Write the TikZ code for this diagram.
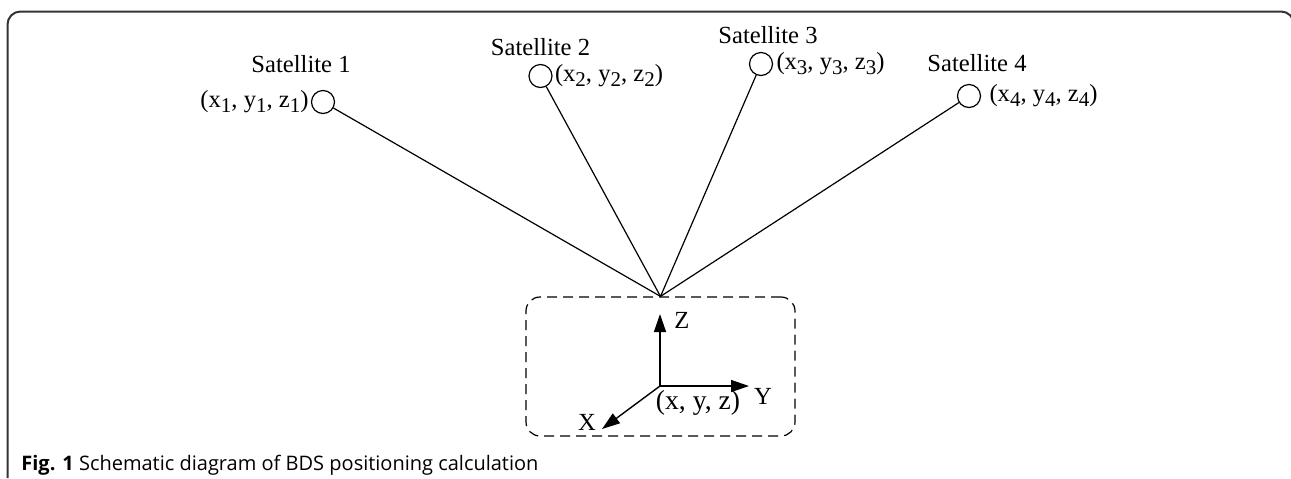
\documentclass[tikz,border=0pt]{standalone}
\usepackage{fontspec}
\setmainfont{Liberation Serif}
\newfontfamily\capfont{Open Sans}
\usetikzlibrary{arrows.meta, positioning}
\newcommand{\lowidx}[1]{\raisebox{-0.4ex}{\fontsize{10.5}{12}\selectfont #1}}

\begin{document}
\begin{tikzpicture}[x=0.5pt, y=-0.5pt,
	sat/.style={draw, circle, minimum size=11.5pt, inner sep=0pt, line width=0.6pt},
	lbl/.style={font=\fontsize{12.3}{14}\selectfont, inner sep=0pt},
	ray/.style={line width=0.6pt},
	axis/.style={line width=0.7pt, -{Triangle[length=9pt,width=6pt]}}]
	\useasboundingbox (0,0) rectangle (1291,478);
	% outer frame
	\draw[line width=1pt, black!80, rounded corners=6.5pt] (7.5,478) -- (7.5,11.5) -- (1294,11.5) -- (1294,40);
	% satellites
	\node[sat] (s1) at (323,102) {};
	\node[sat] (s2) at (540.5,76) {};
	\node[sat] (s3) at (761,64) {};
	\node[sat] (s4) at (969,96) {};
	\node[lbl, left=1pt of s1] (p1) {(x\lowidx{1}, y\lowidx{1}, z\lowidx{1})};
	\node[lbl, right=1pt of s2] (p2) {(x\lowidx{2}, y\lowidx{2}, z\lowidx{2})};
	\node[lbl, right=1.5pt of s3] (p3) {(x\lowidx{3}, y\lowidx{3}, z\lowidx{3})};
	\node[lbl, right=4pt of s4] (p4) {(x\lowidx{4}, y\lowidx{4}, z\lowidx{4})};
	\node[lbl, anchor=base] (n1) at (301,72) {Satellite 1};
	\node[lbl, anchor=base] (n2) at (540.5,55) {Satellite 2};
	\node[lbl, anchor=base] (n3) at (768,43) {Satellite 3};
	\node[lbl, anchor=base] (n4) at (977,71) {Satellite 4};
	% receiver
	\node[draw, line width=0.6pt, dash pattern=on 5pt off 3pt, rounded corners=7pt,
		minimum width=134.5pt, minimum height=69.5pt] (rx) at (660.5,366.5) {};
	\foreach \s in {s1,s2,s3,s4}
		\draw[ray] (\s) -- (rx.north);
	\coordinate (o) at (660,386);
	\coordinate (zt) at (660,314);
	\coordinate (yt) at (749,386);
	\coordinate (xt) at (602,429);
	\draw[axis] (o) -- (zt);
	\draw[axis] (o) -- (yt);
	\draw[axis] (o) -- (xt);
	\node[lbl] (zl) at (682,320) {Z};
	\node[lbl] (yl) at (763,396) {Y};
	\node[lbl] (xl) at (587,422) {X};
	\node[lbl, font=\fontsize{13.8}{16}\selectfont] (ol) at (698,403) {(x, y, z)};
	% caption
	\node[anchor=base west, inner sep=0pt, font=\capfont\fontsize{10}{12}\selectfont] (cap) at (21,470)
		{\textbf{Fig. 1} Schematic diagram of BDS positioning calculation};
\end{tikzpicture}
\end{document}
